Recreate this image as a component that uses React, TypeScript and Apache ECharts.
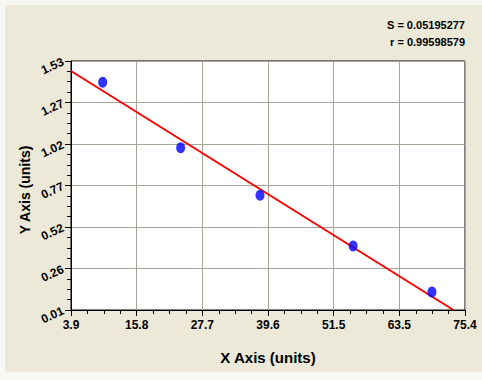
import React, { useEffect, useRef } from "react";
import * as echarts from "echarts";

const xTickLabels = ["3.9", "15.8", "27.7", "39.6", "51.5", "63.5", "75.4"];
const yTickLabels = ["0.01", "0.26", "0.52", "0.77", "1.02", "1.27", "1.53"];
const xMin = 3.9;
const xMax = 75.4;
const yMin = 0.01;
const yMax = 1.53;

const pointX = [9.65, 23.8, 38.2, 55.1, 69.4];
const pointY = [1.4, 1.0, 0.71, 0.4, 0.12];

const fitX = [3.9, 73.3];
const fitY = [1.469, 0.01];

const statS = "S = 0.05195277";
const statR = "r = 0.99598579";

export default function App() {
  const ref = useRef<HTMLDivElement>(null);
  useEffect(() => {
    if (!ref.current) return;
    const chart = echarts.init(ref.current, undefined, { renderer: "svg" });
    const xInt = (xMax - xMin) / 6;
    const yInt = (yMax - yMin) / 6;
    const font = "Arial, 'Liberation Sans', sans-serif";
    chart.setOption({
      animation: false,
      backgroundColor: "#f7f7f4",
      graphic: [
        { type: "rect", shape: { x: 5, y: 5, width: 477, height: 367 }, style: { fill: "#ECE9D8" }, z: -10 },
        { type: "text", x: 465, y: 25, style: { text: statS, fontSize: 11, fontWeight: "bold", fontFamily: font, fill: "#000", textAlign: "right", textVerticalAlign: "middle" } },
        { type: "text", x: 465, y: 42, style: { text: statR, fontSize: 11, fontWeight: "bold", fontFamily: font, fill: "#000", textAlign: "right", textVerticalAlign: "middle" } },
        { type: "text", x: 268, y: 357, style: { text: "X Axis (units)", fontSize: 15, fontWeight: "bold", fontFamily: font, fill: "#000", textAlign: "center", textVerticalAlign: "middle" } },
        { type: "text", x: 25, y: 190, rotation: Math.PI / 2, style: { text: "Y Axis (units)", fontSize: 14, fontWeight: "bold", fontFamily: font, fill: "#000", textAlign: "center", textVerticalAlign: "middle" } },
      ],
      grid: {
        left: 71, top: 61, width: 394, height: 249,
        show: true, backgroundColor: "#ffffff", borderColor: "#000", borderWidth: 1,
      },
      xAxis: {
        type: "value", min: 0, max: xMax - xMin, interval: xInt,
        axisLine: { show: true, onZero: false, lineStyle: { color: "#000", width: 1 } },
        axisTick: { show: true, length: 6, lineStyle: { color: "#000" } },
        minorTick: { show: true, splitNumber: 4, length: 4, lineStyle: { color: "#000" } },
        splitLine: { show: true, lineStyle: { color: "#a8a496", width: 1 } },
        axisLabel: {
          margin: 9, color: "#000", fontSize: 12, fontWeight: "bold", fontFamily: font,
          formatter: (v: number) => xTickLabels[Math.round(v / xInt)] ?? "",
        },
      },
      yAxis: {
        type: "value", min: 0, max: yMax - yMin, interval: yInt,
        axisLine: { show: true, onZero: false, lineStyle: { color: "#000", width: 1 } },
        axisTick: { show: true, length: 6, lineStyle: { color: "#000" } },
        minorTick: { show: true, splitNumber: 4, length: 4, lineStyle: { color: "#000" } },
        splitLine: { show: true, lineStyle: { color: "#a8a496", width: 1 } },
        axisLabel: {
          margin: 8, rotate: 25, color: "#000", fontSize: 12, fontWeight: "bold", fontFamily: font,
          formatter: (v: number) => yTickLabels[Math.round(v / yInt)] ?? "",
        },
      },
      series: [
        {
          type: "line",
          data: fitX.map((x, i) => [x - xMin, fitY[i] - yMin]),
          showSymbol: false,
          lineStyle: { color: "#ff0000", width: 2 },
          z: 2,
        },
        {
          type: "scatter",
          data: pointX.map((x, i) => [x - xMin, pointY[i] - yMin]),
          symbol: "circle",
          symbolSize: [9, 11],
          itemStyle: { color: "#0000ff" },
          z: 3,
        },
      ],
    });
    return () => chart.dispose();
  }, []);
  return <div ref={ref} style={{ position: "fixed", left: 0, top: 0, width: 482, height: 380 }} />;
}
